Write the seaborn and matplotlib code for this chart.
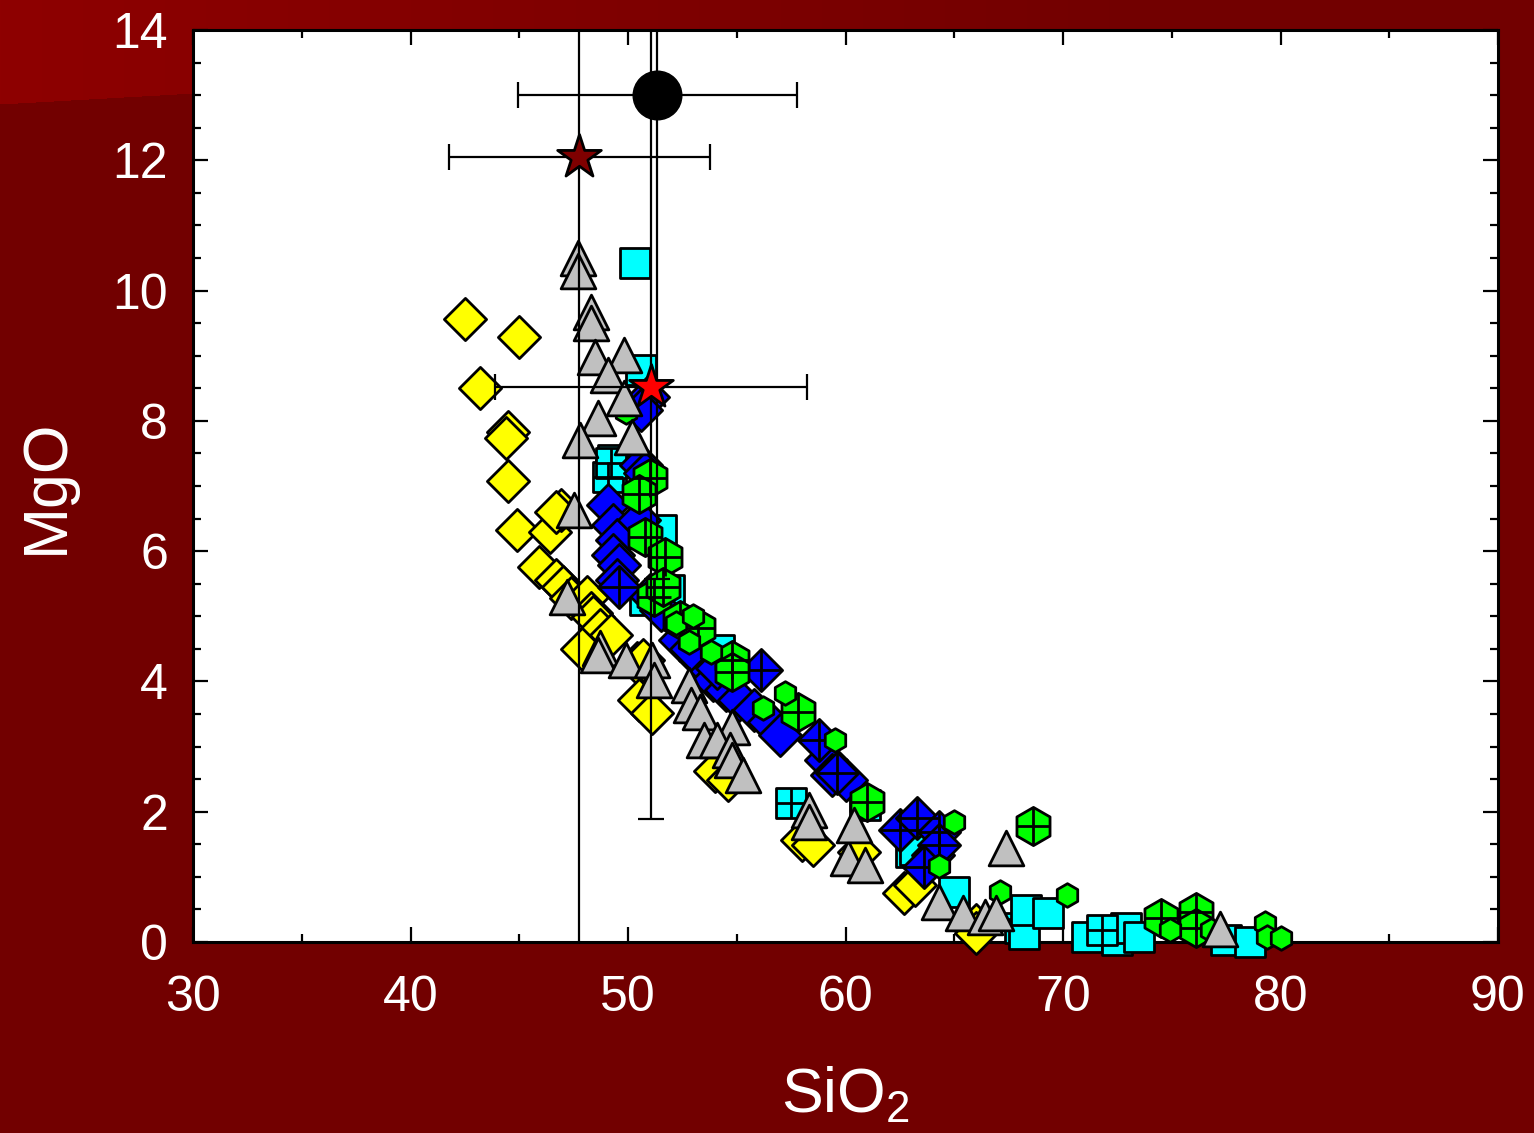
import numpy as np
import matplotlib
matplotlib.use("Agg")
import matplotlib.pyplot as plt
import seaborn as sns

sns.set_theme(style="white")
plt.rcParams['font.family'] = ['Liberation Sans', 'DejaVu Sans']
plt.rcParams['mathtext.fontset'] = 'custom'
plt.rcParams['mathtext.rm'] = 'Liberation Sans'

# ---------------- data ----------------
yellow_x = [42.5, 45.0, 43.2, 44.5, 44.4, 44.5, 44.9, 46.4, 46.9, 46.7, 45.9, 46.7, 47.0, 47.4, 48.1,
            48.3, 48.4, 48.7, 49.2, 47.9, 50.4, 50.7, 50.5, 51.1, 54.0, 54.6, 58.0, 58.5, 60.6, 62.7,
            63.2, 66.0, 66.0]
yellow_y = [9.56, 9.29, 8.50, 7.83, 7.74, 7.08, 6.32, 6.29, 6.63, 6.60, 5.76, 5.56, 5.45, 5.28, 5.30,
            5.05, 4.99, 4.79, 4.72, 4.50, 4.28, 4.33, 3.72, 3.52, 2.63, 2.49, 1.57, 1.49, 1.38, 0.75,
            0.88, 0.26, 0.14]

gray_x = [47.7, 47.7, 48.3, 48.3, 48.5, 49.8, 49.1, 49.8, 48.6, 47.8, 50.2, 47.5, 47.2, 48.7, 48.6,
          49.9, 51.1, 51.2, 52.8, 52.9, 53.3, 54.8, 53.5, 54.1, 54.7, 54.8, 55.3, 58.3, 58.3, 60.1,
          60.4, 60.9, 64.3, 65.4, 66.4, 66.9, 67.4, 77.2]
gray_y = [10.50, 10.30, 9.67, 9.50, 8.98, 9.01, 8.70, 8.35, 8.04, 7.71, 7.75, 6.63, 5.30, 4.51, 4.40,
          4.33, 4.33, 4.02, 3.95, 3.64, 3.53, 3.30, 3.10, 3.10, 2.95, 2.79, 2.56, 2.03, 1.84, 1.29,
          1.80, 1.18, 0.62, 0.45, 0.39, 0.44, 1.44, 0.20]

cyan_x = [50.3, 50.6, 49.3, 49.2, 51.5, 51.9, 50.8, 54.2, 60.9, 63.0, 63.2, 65.0, 68.0, 68.2, 68.3,
          69.3, 71.1, 72.5, 72.9, 73.5, 77.5, 78.6]
cyan_y = [10.42, 8.78, 7.40, 7.17, 6.32, 5.40, 5.25, 4.48, 2.10, 1.38, 1.41, 0.76, 0.22, 0.12, 0.49,
          0.45, 0.08, 0.03, 0.21, 0.08, 0.03, 0.0]
cyanx_x = [49.1, 49.2, 57.5, 71.8]
cyanx_y = [7.14, 7.35, 2.13, 0.18]

blue_x = [50.9, 50.6, 50.6, 50.8, 49.1, 49.3, 49.5, 49.3, 49.6, 49.5, 50.5, 51.0, 51.5, 52.4, 53.3,
          53.9, 54.5, 55.1, 55.8, 56.5, 57.0, 59.1, 59.4, 60.0, 64.0, 52.9, 54.1]
blue_y = [8.37, 8.17, 7.32, 7.20, 6.71, 6.40, 6.17, 5.94, 5.79, 5.56, 6.48, 5.33, 5.10, 4.64, 4.33,
          4.02, 3.87, 3.71, 3.56, 3.38, 3.18, 2.79, 2.56, 2.49, 1.34, 4.50, 4.20]
bluex_x = [49.6, 56.1, 58.8, 59.6, 62.5, 63.3, 64.3, 64.3, 63.6]
bluex_y = [5.45, 4.18, 3.10, 2.60, 1.72, 1.90, 1.69, 1.49, 1.15]

green_x = [51.0, 50.5, 50.8, 51.7, 51.2, 52.4, 53.2, 54.8, 54.8, 57.8, 61.0, 68.6, 74.5, 76.1, 76.1, 51.6]
green_y = [7.12, 6.88, 6.22, 5.91, 5.30, 4.94, 4.82, 4.33, 4.15, 3.53, 2.15, 1.78, 0.37, 0.46, 0.21, 5.45]
greens_x = [49.9, 53.8, 56.2, 57.2, 59.5, 65.0, 64.3, 67.1, 70.2, 79.3, 79.4, 80.0, 74.9, 76.8, 52.2,
            52.8, 53.0]
greens_y = [8.14, 4.45, 3.59, 3.82, 3.10, 1.84, 1.17, 0.77, 0.72, 0.29, 0.08, 0.06, 0.18, 0.18, 4.90,
            4.60, 5.00]

# reference points with error bars
ref_x = [51.35, 47.75, 51.05]
ref_y = [13.0, 12.05, 8.52]
ref_xerr = [6.4, 6.0, 7.17]
ref_yerr = [7.43, 13.0, 6.63]

# ---------------- figure ----------------
W, H = 1534, 1133
fig = plt.figure(figsize=(W / 100, H / 100), dpi=100)
fig.patch.set_facecolor('#720000')

# background lighter band at top-left
bg = fig.add_axes([0, 0, 1, 1], zorder=-5)
bg.set_axis_off()
xx, yy = np.meshgrid(np.arange(W), np.arange(H))
img = np.zeros((H, W, 4))
img[..., 3] = 1.0
mask = yy < (104 - 0.0565 * xx)
fade = np.clip(1 - xx / 1150.0, 0, 1)
img[..., 0] = np.where(mask, (114 + 28 * fade) / 255, 114 / 255)
bg.imshow(img, extent=(0, W, H, 0), aspect='auto', interpolation='nearest')
bg.set_xlim(0, W)
bg.set_ylim(H, 0)

ax = fig.add_axes([193 / W, 1 - 942 / H, (1498 - 193) / W, (942 - 30) / H])
ax.set_facecolor('white')

lw = 2.0
DS = 21.5   # diamond size
SQ = 21.5   # square size
HX = 27.5   # big hexagon
HS = 17     # small hexagon
TR = 25     # triangle

sns.scatterplot(x=yellow_x, y=yellow_y, marker='D', s=DS ** 2, color='#FFFF00', edgecolor='black',
                linewidth=lw, ax=ax, zorder=3, clip_on=False, legend=False)
sns.scatterplot(x=cyan_x, y=cyan_y, marker='s', s=SQ ** 2, color='#00FFFF', edgecolor='black',
                linewidth=lw, ax=ax, zorder=4, clip_on=False, legend=False)
sns.scatterplot(x=cyanx_x, y=cyanx_y, marker='s', s=SQ ** 2, color='#00FFFF', edgecolor='black',
                linewidth=lw, ax=ax, zorder=4, clip_on=False, legend=False)
ax.plot(cyanx_x, cyanx_y, ls='none', marker='+', ms=SQ, mew=lw, color='black', zorder=4.1, clip_on=False)

sns.scatterplot(x=blue_x, y=blue_y, marker='D', s=DS ** 2, color='#0000FF', edgecolor='black',
                linewidth=lw, ax=ax, zorder=5, clip_on=False, legend=False)
sns.scatterplot(x=bluex_x, y=bluex_y, marker='D', s=DS ** 2, color='#0000FF', edgecolor='black',
                linewidth=lw, ax=ax, zorder=5, clip_on=False, legend=False)
ax.plot(bluex_x, bluex_y, ls='none', marker='+', ms=DS * 1.414, mew=lw, color='black', zorder=5.1,
        clip_on=False)

sns.scatterplot(x=green_x, y=green_y, marker='h', s=HX ** 2, color='#00FF00', edgecolor='black',
                linewidth=lw, ax=ax, zorder=6, clip_on=False, legend=False)
ax.plot(green_x, green_y, ls='none', marker='|', ms=HX, mew=lw, color='black', zorder=6.1, clip_on=False)
ax.plot(green_x, green_y, ls='none', marker='_', ms=HX * 0.866, mew=lw, color='black', zorder=6.1,
        clip_on=False)
sns.scatterplot(x=greens_x, y=greens_y, marker='h', s=HS ** 2, color='#00FF00', edgecolor='black',
                linewidth=lw, ax=ax, zorder=6.2, clip_on=False, legend=False)

sns.scatterplot(x=gray_x, y=gray_y, marker='^', s=TR ** 2, color='#C0C0C0', edgecolor='black',
                linewidth=lw, ax=ax, zorder=7, clip_on=False, legend=False)

# error bars
ax.errorbar(ref_x, ref_y, xerr=ref_xerr, yerr=ref_yerr, fmt='none', ecolor='black',
            elinewidth=1.6, capsize=9.5, capthick=1.6, zorder=8)
sns.scatterplot(x=ref_x[:1], y=ref_y[:1], marker='o', s=35 ** 2, color='black', edgecolor='black',
                linewidth=1, ax=ax, zorder=9, legend=False)
sns.scatterplot(x=ref_x[1:2], y=ref_y[1:2], marker='*', s=33 ** 2, color='#7F0000', edgecolor='black',
                linewidth=lw, ax=ax, zorder=9, legend=False)
sns.scatterplot(x=ref_x[2:3], y=ref_y[2:3], marker='*', s=33 ** 2, color='#FF0000', edgecolor='black',
                linewidth=lw, ax=ax, zorder=9, legend=False)

ax.set_xlim(30, 90)
ax.set_ylim(0, 14)
ax.set_xticks(np.arange(30, 91, 10))
ax.set_xticks(np.arange(35, 90, 10), minor=True)
ax.set_yticks(np.arange(0, 15, 2))
ax.set_yticks(np.arange(0.5, 14, 0.5), minor=True)
ax.tick_params(which='both', direction='in', top=True, right=True, bottom=True, left=True,
               color='black', width=1.6, labelcolor='white', labelsize=36, pad=18)
ax.tick_params(axis='x', which='both', pad=24)
ax.tick_params(which='major', length=10.5)
ax.tick_params(which='minor', length=6)
ax.grid(False)
for sp in ax.spines.values():
    sp.set_visible(True)
    sp.set_color('black')
    sp.set_linewidth(2.2)

ax.set_xlabel(r'SiO$_\mathregular{2}$', fontsize=45, color='white')
ax.set_ylabel('MgO', fontsize=45, color='white')
ax.xaxis.set_label_coords(0.5, -0.135)
ax.yaxis.set_label_coords(-0.09, 0.5)

fig.savefig('out.png', dpi=100, facecolor=fig.get_facecolor())
